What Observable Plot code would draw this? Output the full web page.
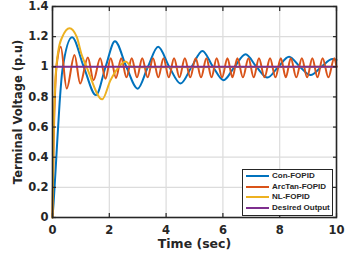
<!DOCTYPE html>
<html>
<head>
<meta charset="utf-8">
<script src="https://cdn.jsdelivr.net/npm/d3@7"></script>
<script src="https://cdn.jsdelivr.net/npm/@observablehq/plot@0.6"></script>
<style>
  html, body { margin: 0; padding: 0; background: #fff; }
  #wrap { position: relative; width: 358px; height: 254px; }
  #legend { position: absolute; left: 242px; top: 169px; width: 89px; height: 45px;
    border: 1.5px solid #262626; background: #fff; font-family: "Liberation Sans", Arial, sans-serif;
    font-weight: bold; font-size: 8px; color: #262626; }
  .row { position: absolute; left: 0; height: 10px; width: 100%; }
  .sw { position: absolute; left: 3px; top: 4px; width: 23px; height: 2px; }
  .lb { position: absolute; left: 29px; top: 0; line-height: 10px; white-space: nowrap; }
</style>
</head>
<body>
<div id="wrap"></div>
<script>
// ---- data ----
const seriesNames = ["Con-FOPID", "ArcTan-FOPID", "NL-FOPID", "Desired Output"];
const seriesColors = ["#0072BD", "#D95319", "#EDB120", "#7E2F8E"];
const xTicks = [0, 2, 4, 6, 8, 10];
const yTicks = [0, 0.2, 0.4, 0.6, 0.8, 1, 1.2, 1.4];

const conT = [0, 0.04, 0.15, 0.25, 0.35, 0.69, 1.1, 1.53, 1.87, 2.2, 2.6, 3.0, 3.36, 3.72, 4.11, 4.51, 4.9, 5.28, 5.65, 6.02, 6.41, 6.8, 7.18, 7.57, 7.95, 8.33, 8.71, 9.09, 9.47, 9.86, 10];
const conV = [0, 0.1, 0.45, 0.76, 0.98, 1.196, 1.0, 0.812, 1.0, 1.17, 1.0, 0.855, 1.0, 1.133, 1.0, 0.889, 1.0, 1.105, 1.0, 0.911, 1.0, 1.083, 1.0, 0.929, 1.0, 1.067, 1.0, 0.945, 1.0, 1.051, 1.045];

const arcT = [0, 0.04, 0.1, 0.18, 0.29, 0.5, 0.775, 0.975, 1.245, 1.445, 1.68, 1.865, 2.05, 2.235, 2.42, 2.605, 2.79, 2.975, 3.16, 3.35, 3.54, 3.725, 3.91, 4.095, 4.28, 4.47, 4.66, 4.85, 5.04, 5.23, 5.42, 5.6, 5.78, 5.97, 6.16, 6.335, 6.51, 6.705, 6.9, 7.085, 7.27, 7.465, 7.66, 7.85, 8.04, 8.215, 8.39, 8.585, 8.78, 8.965, 9.15, 9.33, 9.51, 9.715, 9.92, 10];
const arcV = [0, 0.5, 0.88, 1.06, 1.133, 0.856, 1.078, 0.889, 1.062, 0.911, 1.056, 0.92, 1.056, 0.926, 1.056, 0.93, 1.056, 0.93, 1.056, 0.93, 1.056, 0.93, 1.056, 0.93, 1.056, 0.93, 1.056, 0.93, 1.056, 0.93, 1.056, 0.93, 1.056, 0.93, 1.056, 0.93, 1.056, 0.93, 1.056, 0.93, 1.056, 0.93, 1.056, 0.93, 1.056, 0.93, 1.056, 0.93, 1.056, 0.93, 1.056, 0.93, 1.056, 0.93, 1.056, 1.0];

const nlT = [0, 0.04, 0.1, 0.2, 0.35, 0.6, 0.85, 1.03, 1.2, 1.75, 2.04, 2.34, 2.57, 2.8, 3.1, 10];
const nlV = [0, 0.55, 0.9, 1.1, 1.2, 1.256, 1.2, 1.078, 1.0, 0.784, 0.91, 1.0, 1.035, 1.0, 0.997, 1.0];

const desT = [0, 10];
const desV = [1, 1];

// ---- build tables ----
const toRows = (T, V) => T.map((t, i) => ({t, v: V[i]}));
const series = [toRows(conT, conV), toRows(arcT, arcV), toRows(nlT, nlV), toRows(desT, desV)];

const ink = "#262626";
const chart = Plot.plot({
  width: 358, height: 254,
  marginLeft: 52, marginRight: 22, marginTop: 6, marginBottom: 37,
  x: {domain: [0, 10]},
  y: {domain: [0, 1.4]},
  style: {fontFamily: "'DejaVu Sans', sans-serif", fontWeight: "bold", fontSize: "11.5px", color: ink, background: "#fff"},
  marks: [
    Plot.gridX(xTicks, {stroke: "#dcdcdc", strokeOpacity: 1, strokeWidth: 1.2}),
    Plot.gridY(yTicks, {stroke: "#dcdcdc", strokeOpacity: 1, strokeWidth: 1.2}),
    ...series.map((rows, i) => Plot.line(rows, {x: "t", y: "v", stroke: seriesColors[i], strokeWidth: 2, curve: "monotone-x"})),
    Plot.frame({stroke: ink, strokeWidth: 1.6}),
    Plot.axisX(xTicks, {anchor: "bottom", tickSize: -4, tickFormat: () => "", stroke: ink, strokeWidth: 1.2, label: null}),
    Plot.axisX(xTicks, {anchor: "top", tickSize: -4, tickFormat: () => "", stroke: ink, strokeWidth: 1.2, label: null}),
    Plot.axisY(yTicks, {anchor: "left", tickSize: -4, tickFormat: () => "", stroke: ink, strokeWidth: 1.2, label: null}),
    Plot.axisY(yTicks, {anchor: "right", tickSize: -4, tickFormat: () => "", stroke: ink, strokeWidth: 1.2, label: null}),
    Plot.axisX(xTicks, {anchor: "bottom", tickSize: 0, tickPadding: 8, tickFormat: d => String(d), fill: ink, label: null}),
    Plot.axisY(yTicks, {anchor: "left", tickSize: 0, tickPadding: 4, tickFormat: d => String(d), fill: ink, label: null}),
    Plot.text(["Time (sec)"], {frameAnchor: "bottom", dy: 26, textAnchor: "middle", lineAnchor: "middle", fontSize: 12.5, fill: ink}),
    Plot.text(["Terminal Voltage (p.u)"], {frameAnchor: "left", dx: -34, rotate: -90, textAnchor: "middle", lineAnchor: "middle", fontSize: 11.5, fill: ink})
  ]
});
const wrap = document.getElementById("wrap");
wrap.appendChild(chart);

// legend
const leg = document.createElement("div");
leg.id = "legend";
seriesNames.forEach((name, i) => {
  const row = document.createElement("div");
  row.className = "row";
  row.style.top = (1 + i * 10.6) + "px";
  const sw = document.createElement("div");
  sw.className = "sw";
  sw.style.background = seriesColors[i];
  const lb = document.createElement("div");
  lb.className = "lb";
  lb.textContent = name;
  row.appendChild(sw); row.appendChild(lb);
  leg.appendChild(row);
});
wrap.appendChild(leg);
</script>
</body>
</html>
